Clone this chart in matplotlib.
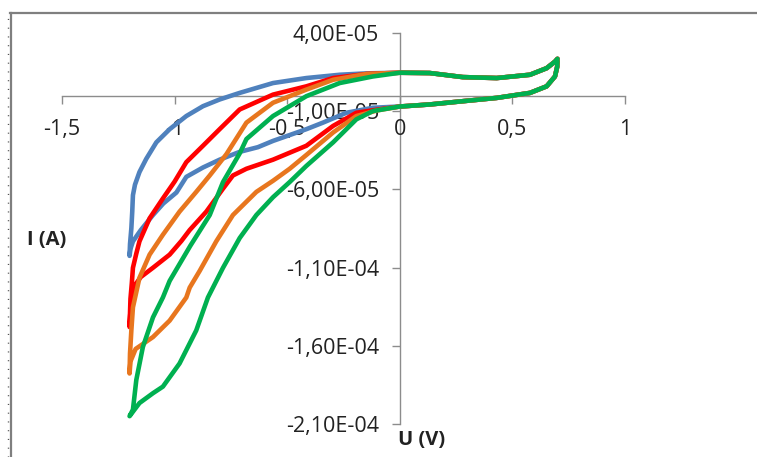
import numpy as np
import matplotlib
matplotlib.use("Agg")
import matplotlib.pyplot as plt
from matplotlib.lines import Line2D
from matplotlib.ticker import FixedLocator, FuncFormatter

# ---- data (potential in V, current in units of 1e-5 A) ----
right_lower_V = [0.70, 0.699, 0.689, 0.652, 0.578, 0.43, 0.28, 0.133, 0.0]
right_lower_I = [2.2, 1.85, 1.22, 0.59, 0.17, -0.15, -0.36, -0.57, -0.70]
right_upper_V = [0.0, 0.133, 0.28, 0.43, 0.578, 0.652, 0.689, 0.70]
right_upper_I = [1.46, 1.44, 1.18, 1.12, 1.33, 1.75, 2.17, 2.35]

blue_lower_V = [-0.119, -0.237, -0.341, -0.415, -0.563, -0.63, -0.711, -0.8, -0.874, -0.948,
                -0.992, -1.05, -1.096, -1.15, -1.185, -1.196, -1.2]
blue_lower_I = [-0.78, -1.1, -1.73, -2.15, -2.9, -3.3, -3.6, -4.1, -4.6, -5.2,
                -6.2, -6.9, -7.64, -8.6, -9.32, -9.8, -10.25]
blue_upper_V = [-1.198, -1.192, -1.188, -1.185, -1.176, -1.156, -1.126, -1.081, -1.022, -0.948,
                -0.874, -0.8, -0.711, -0.563, -0.415, -0.267, -0.148]
blue_upper_I = [-9.5, -8.48, -7.4, -6.37, -5.7, -4.89, -4.05, -2.99, -2.15, -1.31,
                -0.68, -0.25, 0.17, 0.8, 1.12, 1.33, 1.42]

red_lower_V = [-0.1, -0.193, -0.296, -0.415, -0.563, -0.681, -0.741, -0.785, -0.859, -0.933,
               -0.97, -1.022, -1.096, -1.15, -1.175, -1.19, -1.197, -1.2]
red_lower_I = [-0.9, -1.1, -1.94, -3.21, -4.1, -4.68, -5.11, -5.95, -7.42, -8.6,
               -9.3, -10.17, -11.01, -11.6, -12.1, -13.0, -14.0, -14.8]
red_upper_V = [-1.196, -1.19, -1.185, -1.17, -1.156, -1.111, -1.052, -1.0, -0.948, -0.874,
               -0.8, -0.711, -0.563, -0.415, -0.296, -0.148]
red_upper_I = [-13.0, -12.0, -11.01, -10.1, -9.32, -7.85, -6.58, -5.5, -4.26, -3.21,
               -2.15, -0.89, 0.06, 0.59, 1.12, 1.38]

orange_lower_V = [-0.1, -0.193, -0.296, -0.415, -0.489, -0.563, -0.637, -0.741, -0.815, -0.889,
                  -0.933, -0.948, -1.022, -1.096, -1.173, -1.196, -1.2]
orange_lower_I = [-0.95, -1.31, -2.36, -3.8, -4.68, -5.45, -6.16, -7.64, -9.32, -11.22,
                  -12.28, -12.91, -14.39, -15.44, -16.2, -17.0, -17.77]
orange_upper_V = [-1.198, -1.192, -1.185, -1.156, -1.111, -1.052, -0.978, -0.904, -0.844, -0.77,
                  -0.681, -0.563, -0.415, -0.296, -0.148]
orange_upper_I = [-16.5, -15.0, -13.54, -11.65, -10.17, -8.9, -7.42, -6.16, -5.11, -3.75,
                  -1.73, -0.46, 0.38, 1.01, 1.38]

green_lower_V = [-0.119, -0.193, -0.296, -0.415, -0.489, -0.563, -0.637, -0.711, -0.785, -0.852,
                 -0.904, -0.978, -1.052, -1.096, -1.156, -1.2]
green_lower_I = [-0.99, -1.52, -2.99, -4.5, -5.53, -6.5, -7.64, -9.11, -11.01, -12.91,
                 -15.02, -17.13, -18.61, -19.03, -19.66, -20.5]
green_upper_V = [-1.185, -1.17, -1.141, -1.096, -1.052, -1.022, -0.93, -0.844, -0.785, -0.711,
                 -0.681, -0.563, -0.415, -0.267, -0.12]
green_upper_I = [-20.08, -18.18, -16.08, -14.18, -12.91, -11.85, -9.6, -7.64, -5.53, -3.7,
                 -2.78, -1.31, -0.04, 0.8, 1.22]

series = [
    ("blue", blue_lower_V, blue_lower_I, blue_upper_V, blue_upper_I, "#4F81BD"),
    ("red", red_lower_V, red_lower_I, red_upper_V, red_upper_I, "#FF0000"),
    ("orange", orange_lower_V, orange_lower_I, orange_upper_V, orange_upper_I, "#E8761E"),
    ("green", green_lower_V, green_lower_I, green_upper_V, green_upper_I, "#00B050"),
]

x_ticks = [-1.5, -1, -0.5, 0, 0.5, 1]
y_ticks = [4e-5, -1e-5, -6e-5, -1.1e-4, -1.6e-4, -2.1e-4]

W, H = 757, 457
fig = plt.figure(figsize=(W / 100, H / 100), dpi=100)
ax = fig.add_axes([62 / W, (H - 424) / H, (625 - 62) / W, (424 - 33) / H])

for name, lv, li, uv, ui, col in series:
    V = np.concatenate([right_lower_V, lv, uv, right_upper_V])
    I = np.concatenate([right_lower_I, li, ui, right_upper_I]) * 1e-5
    ax.plot(V, I, color=col, lw=3.3, solid_joinstyle="round", solid_capstyle="round", zorder=3)

ax.set_xlim(-1.5, 1)
ax.set_ylim(-2.1e-4, 4e-5)

axis_col = "#8C8C8C"
for s in ["top", "right"]:
    ax.spines[s].set_visible(False)
ax.spines["left"].set_position(("data", 0))
ax.spines["bottom"].set_position(("data", 0))
for s in ["left", "bottom"]:
    ax.spines[s].set_color(axis_col)
    ax.spines[s].set_linewidth(1.0)
    ax.spines[s].set_zorder(1)

fontfam = ["Open Sans", "DejaVu Sans"]
ax.xaxis.set_major_locator(FixedLocator(x_ticks))
ax.yaxis.set_major_locator(FixedLocator(y_ticks))
ax.xaxis.set_major_formatter(FuncFormatter(lambda v, p: ("%g" % v).replace(".", ",")))

def yfmt(v, p):
    s = "%.2E" % v
    mant, ex = s.split("E")
    sign = "-" if ex[0] == "-" else ""
    return mant.replace(".", ",") + "E" + sign + "%02d" % abs(int(ex))

ax.yaxis.set_major_formatter(FuncFormatter(yfmt))
ax.tick_params(axis="x", direction="out", length=6, width=1, color=axis_col, pad=11,
               labelsize=15.5, labelcolor="#222222")
ax.tick_params(axis="y", direction="out", length=6, width=1, color=axis_col, pad=9,
               labelsize=15.5, labelcolor="#222222")
for lab in ax.get_xticklabels() + ax.get_yticklabels():
    lab.set_family(fontfam)

fig.text(27 / W, 1 - 240 / H, "I (A)", fontsize=14.5, fontweight="bold", family=fontfam,
         va="center", ha="left", color="#222222")
fig.text(398 / W, 1 - 440 / H, "U (V)", fontsize=14.5, fontweight="bold", family=fontfam,
         va="center", ha="left", color="#222222")

# frame of the surrounding sheet
fig.add_artist(Line2D([10 / W, 1], [1 - 13 / H, 1 - 13 / H], color="#7F7F7F", lw=1.6))
fig.add_artist(Line2D([11 / W, 11 / W], [0, 1 - 13 / H], color="#7F7F7F", lw=1.6))
fig.add_artist(Line2D([8 / W, 8 / W], [0, 1 - 16 / H], color="#555555", lw=1.0,
                      linestyle=(0, (0.8, 5.5))))

fig.savefig("out.png", dpi=100)
